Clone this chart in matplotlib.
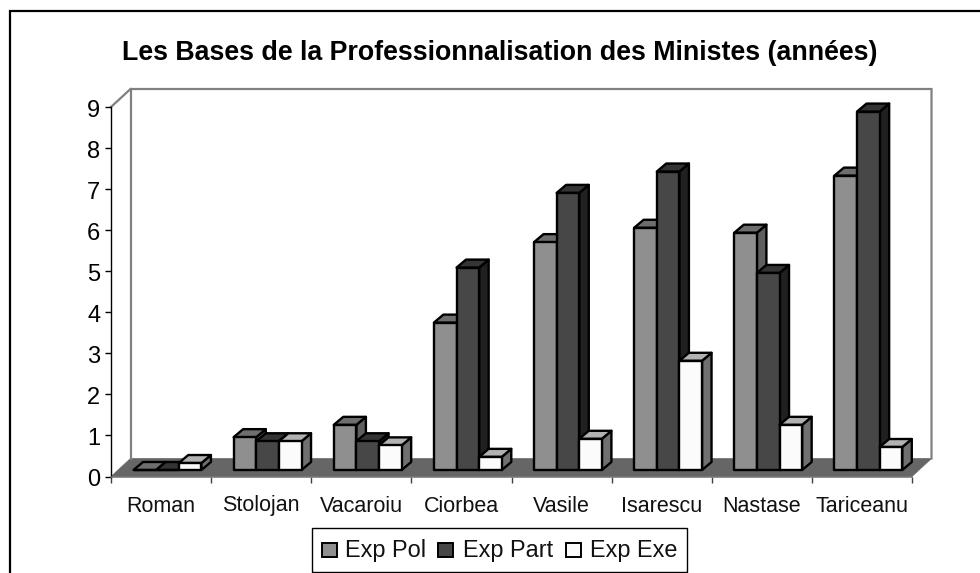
import matplotlib
matplotlib.use("Agg")
import matplotlib.pyplot as plt
from matplotlib.patches import Polygon, Rectangle
from matplotlib.transforms import ScaledTranslation

plt.rcParams['font.family'] = ['Liberation Sans', 'DejaVu Sans']

categories = ["Roman", "Stolojan", "Vacaroiu", "Ciorbea", "Vasile", "Isarescu", "Nastase", "Tariceanu"]
exp_pol = [0, 0.8, 1.1, 3.59, 5.55, 5.9, 5.78, 7.17]
exp_part = [0, 0.7, 0.7, 4.93, 6.75, 7.27, 4.8, 8.73]
exp_exe = [0.17, 0.7, 0.6, 0.32, 0.76, 2.66, 1.1, 0.56]
series_names = ["Exp Pol", "Exp Part", "Exp Exe"]
y_ticks = list(range(10))
title = "Les Bases de la Professionnalisation des Ministes (années)"

W, H = 980, 573
fig = plt.figure(figsize=(W / 100, H / 100), dpi=100, facecolor="white")

# axes box in pixels
L, R, T, B = 111, 912, 107, 476.5
ax = fig.add_axes([L / W, 1 - B / H, (R - L) / W, (B - T) / H])
ax.set_xlim(0, len(categories))
ax.set_ylim(0, 9)
ax.patch.set_alpha(0)
for s in ax.spines.values():
    s.set_visible(False)
ax.spines['left'].set_visible(True)
ax.spines['bottom'].set_visible(True)
ax.spines['left'].set_linewidth(1.0)
ax.spines['bottom'].set_linewidth(1.1)
ax.spines['bottom'].set_color("#707070")
ax.spines['left'].set_zorder(20)
ax.spines['bottom'].set_zorder(20)

px = len(categories) / (R - L)
py = 9 / (B - T)

# 3D wall and floor
WDX, WDY = 19.5 * px, 18 * py
nx = len(categories)
ax.add_patch(Polygon([(0, 0), (nx, 0), (nx + WDX, WDY), (WDX, WDY)], closed=True,
                     fc="#666666", ec="#666666", lw=0.5, clip_on=False, zorder=1))
wall_x = [0, WDX, nx + WDX, nx + WDX]
wall_y = [9, 9 + WDY, 9 + WDY, WDY]
ax.plot(wall_x, wall_y, color="#808080", lw=1.6, clip_on=False, zorder=1, solid_joinstyle="miter")
ax.plot([WDX, WDX], [WDY, 9 + WDY], color="#808080", lw=1.6, clip_on=False, zorder=1)

# bars
BAR = 0.226
START = 0.225
DX, DY = 9.5 * px, 8 * py
BASE = 6.5 * py
styles = [("#8f8f8f", "#6e6e6e", "#5f5f5f"),
          ("#474747", "#343434", "#202020"),
          ("#fbfbfb", "#b2b2b2", "#707070")]
series = [exp_pol, exp_part, exp_exe]
z = 3
for c in range(len(categories)):
    for k, vals in enumerate(series):
        v = vals[c]
        x0 = c + START + k * BAR
        x1 = x0 + BAR
        y0 = BASE
        y1 = BASE + v
        face, top, side = styles[k]
        kw = dict(ec="black", lw=1.7, clip_on=False, joinstyle="round")
        ax.add_patch(Polygon([(x1, y0), (x1 + DX, y0 + DY), (x1 + DX, y1 + DY), (x1, y1)], closed=True, fc=side, zorder=z, **kw))
        ax.add_patch(Polygon([(x0, y1), (x1, y1), (x1 + DX, y1 + DY), (x0 + DX, y1 + DY)], closed=True, fc=top, zorder=z, **kw))
        ax.add_patch(Rectangle((x0, y0), BAR, v, fc=face, zorder=z + 0.5, **kw))
        z += 1

ax.set_xticks(range(len(categories) + 1))
ax.set_xticklabels([""] * (len(categories) + 1))
ax.set_yticks(y_ticks)
ax.tick_params(axis='y', labelsize=17, length=4.3, width=1, pad=3.5, colors="black")
ax.tick_params(axis='x', length=4.3, width=1, color="#404040")
down = ScaledTranslation(0, -1.5 / 100, fig.dpi_scale_trans)
for lab in ax.get_yticklabels():
    lab.set_transform(lab.get_transform() + down)
for i, name in enumerate(categories):
    ax.annotate(name, (i + 0.5, 0), xytext=(0, -35), textcoords="offset pixels",
                ha="center", va="baseline", fontsize=15.5, color="#111111", annotation_clip=False)

# title
fig.text(499.5 / W, 1 - 53.5 / H, title, ha="center", va="center", fontsize=19.25, fontweight="bold")

# outer border, open at the bottom and on the right
fig.add_artist(plt.Line2D([9.5 / W, 9.5 / W, 1.0], [0, 1 - 10.5 / H, 1 - 10.5 / H],
                          color="black", lw=1.6, solid_joinstyle="miter"))

# legend
fig.add_artist(Rectangle((312 / W, 1 - 572 / H), (687 - 312) / W, 44 / H, fc="white", ec="black", lw=1,
                         transform=fig.transFigure))
lx = [322, 438, 566]
tx = [345, 463, 590]
for name, x, t, st in zip(series_names, lx, tx, styles):
    fig.add_artist(Rectangle((x / W, 1 - 557 / H), 14.5 / W, 14.5 / H, fc=st[0], ec="black", lw=1.4,
                             transform=fig.transFigure))
    fig.text(t / W, 1 - 556.5 / H, name, ha="left", va="baseline", fontsize=16.9, color="#111111")

fig.savefig("out.png", dpi=100)
